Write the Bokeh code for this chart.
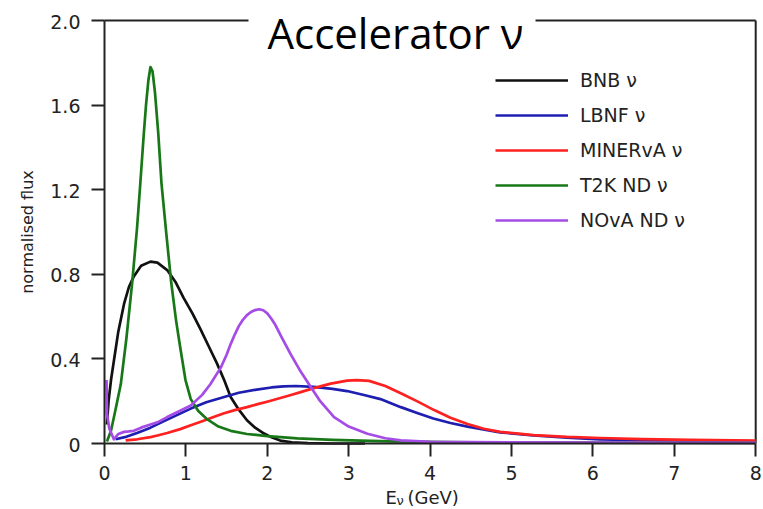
import math
from bokeh.plotting import figure
from bokeh.models import Legend, LegendItem, Label, FixedTicker, Range1d
from bokeh.embed import file_html
from bokeh.resources import INLINE

# ---------------- data ----------------
bnb_x = [0.03, 0.05, 0.08, 0.115, 0.17, 0.24, 0.30, 0.36, 0.45, 0.565, 0.65, 0.77, 0.87, 0.97,
         1.08, 1.18, 1.28, 1.38, 1.47, 1.55, 1.65, 1.75, 1.85, 1.96, 2.06, 2.16, 2.3, 2.5, 2.8, 3.2]
bnb_y = [0.09, 0.20, 0.30, 0.39, 0.53, 0.66, 0.74, 0.79, 0.84, 0.86, 0.855, 0.82, 0.765, 0.69,
         0.615, 0.54, 0.46, 0.38, 0.30, 0.22, 0.16, 0.11, 0.075, 0.047, 0.028, 0.014, 0.006, 0.002, 0.0, 0.0]

lbnf_x = [0.135, 0.25, 0.4, 0.565, 0.7, 0.85, 1.06, 1.25, 1.47, 1.65, 1.87, 2.05, 2.2, 2.35, 2.57,
          2.8, 2.98, 3.2, 3.39, 3.64, 3.85, 4.04, 4.25, 4.46, 4.86, 5.27, 5.68, 6.09, 6.6, 7.2, 8.0]
lbnf_y = [0.02, 0.03, 0.05, 0.075, 0.10, 0.127, 0.165, 0.195, 0.22, 0.24, 0.255, 0.265, 0.27, 0.272,
          0.268, 0.258, 0.248, 0.228, 0.21, 0.172, 0.143, 0.118, 0.097, 0.08, 0.053, 0.038, 0.028,
          0.02, 0.016, 0.013, 0.01]

minerva_x = [0.26, 0.4, 0.565, 0.65, 0.77, 0.93, 1.06, 1.2, 1.34, 1.46, 1.6, 1.75, 1.87, 2.02, 2.16,
             2.28, 2.41, 2.57, 2.78, 2.98, 3.1, 3.25, 3.45, 3.64, 3.85, 4.05, 4.25, 4.46, 4.66,
             4.86, 5.27, 5.68, 6.09, 6.6, 7.2, 8.0]
minerva_y = [0.015, 0.02, 0.03, 0.038, 0.05, 0.068, 0.086, 0.105, 0.125, 0.142, 0.158, 0.172, 0.185,
             0.20, 0.215, 0.228, 0.243, 0.262, 0.283, 0.297, 0.30, 0.296, 0.272, 0.238, 0.198,
             0.158, 0.122, 0.092, 0.07, 0.055, 0.04, 0.031, 0.026, 0.021, 0.017, 0.014]

t2k_x = [0.03, 0.08, 0.13, 0.2, 0.27, 0.34, 0.40, 0.44, 0.48, 0.51, 0.54, 0.565, 0.59, 0.62, 0.66,
         0.70, 0.76, 0.82, 0.88, 0.93, 0.995, 1.06, 1.15, 1.26, 1.4, 1.55, 1.75, 2.0, 2.37, 2.8,
         3.5, 4.5, 6.0, 8.0]
t2k_y = [0.01, 0.06, 0.15, 0.28, 0.50, 0.76, 1.02, 1.23, 1.45, 1.60, 1.72, 1.78, 1.76, 1.66, 1.47,
         1.23, 0.99, 0.76, 0.58, 0.455, 0.30, 0.21, 0.155, 0.115, 0.08, 0.06, 0.045, 0.035, 0.024,
         0.017, 0.01, 0.006, 0.004, 0.003]

nova_x = [0.025, 0.03, 0.06, 0.115, 0.17, 0.24, 0.30, 0.36, 0.45, 0.565, 0.65, 0.77, 0.93, 1.06,
          1.2, 1.3, 1.43, 1.5, 1.55, 1.6, 1.65, 1.7, 1.75, 1.8, 1.85, 1.9, 1.95, 2.0, 2.05, 2.1,
          2.18, 2.29, 2.41, 2.53, 2.65, 2.82, 3.0, 3.23, 3.45, 3.64, 4.0, 5.0, 6.0, 8.0]
nova_y = [0.30, 0.14, 0.07, 0.02, 0.045, 0.055, 0.057, 0.06, 0.075, 0.09, 0.10, 0.125, 0.155, 0.18,
          0.23, 0.28, 0.36, 0.42, 0.47, 0.515, 0.555, 0.585, 0.607, 0.622, 0.631, 0.635, 0.63,
          0.615, 0.59, 0.56, 0.50, 0.42, 0.34, 0.27, 0.2, 0.125, 0.08, 0.046, 0.025, 0.015, 0.008,
          0.005, 0.004, 0.003]

series_names = ["BNB ν", "LBNF ν", "MINERvA ν", "T2K ND ν", "NOvA ND ν"]
series_colors = ["#111111", "#1e1eb0", "#ff2020", "#187818", "#a64ce6"]

x_ticks = [0, 1, 2, 3, 4, 5, 6, 7, 8]
y_ticks = [0, 0.4, 0.8, 1.2, 1.6, 2.0]
y_tick_labels = ["0", "0.4", "0.8", "1.2", "1.6", "2.0"]
x_min, x_max = 0, 8
y_min, y_max = 0, 2.0

title_text = "Accelerator ν"
y_label = "normalised flux"
x_label_parts = ["E", "ν", "(GeV)"]

# frame gap in the top border where the title sits (x data units)
title_gap = (1.769, 5.295)

TICK_FONT = "DejaVu Sans"
INK = "#222222"

# the plotting frame covers the whole canvas; axes are pinned at x=0 / y=0
p = figure(width=763, height=509, output_backend="svg", toolbar_location=None,
           x_range=Range1d(-1.2776, 8.0958), y_range=Range1d(-0.312, 2.0946),
           min_border_left=0, min_border_right=0, min_border_top=0, min_border_bottom=0)
p.grid.grid_line_color = None
p.outline_line_color = None
p.background_fill_color = "white"
p.border_fill_color = "white"

for ax in (p.xaxis[0], p.yaxis[0]):
    ax.axis_line_color = INK
    ax.axis_line_width = 2
    ax.major_tick_line_color = INK
    ax.major_tick_line_width = 2
    ax.major_tick_out = 13
    ax.major_tick_in = 0
    ax.minor_tick_line_color = None
    ax.major_label_text_font = TICK_FONT
    ax.major_label_text_font_size = "19px"
    ax.major_label_text_color = INK

p.xaxis.fixed_location = 0
p.xaxis.bounds = (x_min, x_max)
p.xaxis.ticker = FixedTicker(ticks=x_ticks)
p.xaxis.major_label_overrides = {t: str(t) for t in x_ticks}
p.xaxis.major_label_standoff = 9
p.yaxis.fixed_location = 0
p.yaxis.bounds = (y_min, y_max)
p.yaxis.ticker = FixedTicker(ticks=y_ticks)
p.yaxis.major_label_text_color = None   # drawn below as text, further from the axis

# y tick labels, placed through the y scale
p.text(x=[x_min] * len(y_ticks), y=y_ticks, text=y_tick_labels, x_offset=-24, y_offset=1,
       text_align="right", text_baseline="middle", text_font={"value": TICK_FONT},
       text_font_size="19px", text_color=INK)

# y-axis title
p.add_layout(Label(x=-0.952, y=1.0, text=y_label, angle=math.pi / 2, text_align="center",
                   text_baseline="middle", text_font=TICK_FONT, text_font_size="16px",
                   text_color=INK))

# remaining frame edges: top (with a gap for the title) and right
p.segment(x0=[x_min, title_gap[1]], y0=[y_max, y_max], x1=[title_gap[0], x_max], y1=[y_max, y_max],
          line_color=INK, line_width=2)
p.segment(x0=[x_max], y0=[y_min], x1=[x_max], y1=[y_max], line_color=INK, line_width=2)

xs = [bnb_x, lbnf_x, minerva_x, t2k_x, nova_x]
ys = [bnb_y, lbnf_y, minerva_y, t2k_y, nova_y]
renderers = []
for xv, yv, c in zip(xs, ys, series_colors):
    r = p.line(xv, yv, line_color=c, line_width=2.7, line_join="round")
    renderers.append(r)

title = Label(x=3.575, y=1.943, text=title_text, text_align="center",
              text_baseline="middle", text_font="Open Sans", text_font_size="42px",
              text_color="black")
p.add_layout(title)

# x-axis label: E with subscript nu, then (GeV)
p.add_layout(Label(x=3.452, y=-0.2553, text=x_label_parts[0], text_font=TICK_FONT, text_font_size="18px",
                   text_color=INK, text_baseline="middle"))
p.add_layout(Label(x=3.587, y=-0.2695, text=x_label_parts[1], text_font=TICK_FONT, text_font_size="13px",
                   text_color=INK, text_baseline="middle"))
p.add_layout(Label(x=3.722, y=-0.2553, text=x_label_parts[2], text_font=TICK_FONT, text_font_size="18px",
                   text_color=INK, text_baseline="middle"))

legend = Legend(items=[LegendItem(label=n, renderers=[r]) for n, r in zip(series_names, renderers)],
                location=(495, 278), padding=0, margin=0, spacing=13,
                glyph_width=73, glyph_height=22, label_height=22, label_standoff=12,
                label_text_font=TICK_FONT, label_text_font_size="19px",
                label_text_color=INK, border_line_color=None, background_fill_alpha=0)
p.add_layout(legend)

open("out.html", "w").write(file_html(p, INLINE))
